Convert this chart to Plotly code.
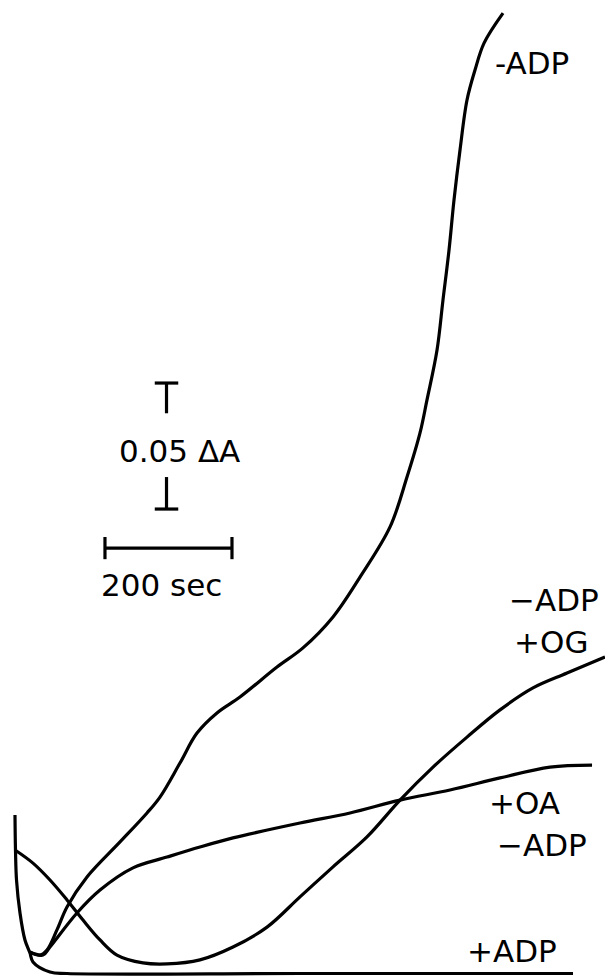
import plotly.graph_objects as go

# ---- data (time in sec, absorbance change in ΔA) ----
t_minus_adp = [23.6, 39.4, 50.4, 66.1, 81.9, 113.4, 165.4, 207.9, 228.3, 259.8, 286.6, 318.1,
               354.3, 412.6, 453.5, 500.8, 543.3, 590.6, 617.3, 637.8, 648.8, 664.6, 674.0,
               683.5, 691.3, 700.8, 711.8, 724.4, 738.6, 768.5]
a_minus_adp = [0.0091, 0.0079, 0.0099, 0.0179, 0.0270, 0.0389, 0.0528, 0.0643, 0.0706, 0.0841,
               0.0960, 0.1040, 0.1103, 0.1222, 0.1298, 0.1421, 0.1579, 0.1778, 0.1976, 0.2151,
               0.2282, 0.2480, 0.2679, 0.2877, 0.3075, 0.3274, 0.3472, 0.3591, 0.3698, 0.3817]

t_oa = [23.6, 44.1, 55.1, 97.6, 133.9, 185.8, 239.4, 291.3, 343.3, 448.8, 527.6, 606.3,
        685.0, 763.8, 842.5, 908.7]
a_oa = [0.0091, 0.0079, 0.0111, 0.0246, 0.0337, 0.0425, 0.0468, 0.0508, 0.0544, 0.0603,
        0.0643, 0.0694, 0.0734, 0.0782, 0.0825, 0.0833]

t_og = [0.0, 28.3, 55.1, 81.9, 107.1, 133.9, 160.6, 201.6, 239.4, 291.3, 343.3, 396.9,
        448.8, 500.8, 554.3, 606.3, 658.3, 711.8, 763.8, 815.7, 869.3, 929.1]
a_og = [0.0496, 0.0444, 0.0377, 0.0298, 0.0218, 0.0139, 0.0079, 0.0048, 0.0044, 0.0060,
        0.0111, 0.0190, 0.0310, 0.0429, 0.0548, 0.0694, 0.0825, 0.0944, 0.1052, 0.1139,
        0.1198, 0.1262]

t_plus_adp = [0.0, 0.8, 2.4, 7.9, 15.7, 23.6, 28.3, 55.1, 81.9, 448.8, 878.7]
a_plus_adp = [0.0635, 0.0496, 0.0377, 0.0246, 0.0139, 0.0087, 0.0052, 0.0012, 0.0006,
              0.0006, 0.0006]

# label lines (one entry per printed line)
label_texts = ["-ADP", "−ADP", "+OG", "+OA", "−ADP", "+ADP"]

# scale bars
bar_time = 200      # sec
bar_dA = 0.05       # ΔA
bar_time_label = "200 sec"
bar_dA_label = "0.05 ΔA"

# ---- layout constants ----
X_RANGE = [-23.6, 929.1]
Y_RANGE = [-0.0004, 0.3869]
INK = "black"
LW = 3.2
FONT = dict(family="DejaVu Sans", size=31, color=INK)

fig = go.Figure()

def curve(t, a):
    fig.add_trace(go.Scatter(x=t, y=a, mode="lines",
                             line=dict(color=INK, width=LW, shape="spline", smoothing=1.0),
                             hoverinfo="skip", showlegend=False))

curve(t_plus_adp, a_plus_adp)
curve(t_og, a_og)
curve(t_oa, a_oa)
curve(t_minus_adp, a_minus_adp)

# horizontal time scale bar
hb_t0, hb_a, tick_h = 141.7, 0.1694, 0.0044
hb_t1 = hb_t0 + bar_time
fig.add_trace(go.Scatter(
    x=[hb_t0, hb_t1, None, hb_t0, hb_t0, None, hb_t1, hb_t1],
    y=[hb_a, hb_a, None, hb_a - tick_h, hb_a + tick_h, None, hb_a - tick_h, hb_a + tick_h],
    mode="lines", line=dict(color=INK, width=3.2), hoverinfo="skip", showlegend=False))

# vertical absorbance scale bar (T ... ⊥)
vb_t, vb_a0 = 238.6, 0.1849
vb_a1 = vb_a0 + bar_dA
cap_w = 18.5
stem = 0.0120
fig.add_trace(go.Scatter(
    x=[vb_t - cap_w, vb_t + cap_w, None, vb_t, vb_t, None,
       vb_t - cap_w, vb_t + cap_w, None, vb_t, vb_t],
    y=[vb_a1, vb_a1, None, vb_a1, vb_a1 - stem, None,
       vb_a0, vb_a0, None, vb_a0, vb_a0 + stem + 0.0007],
    mode="lines", line=dict(color=INK, width=3.2), hoverinfo="skip", showlegend=False))

ann = [
    dict(x=259.1, y=0.2079, text=bar_dA_label, xanchor="center"),
    dict(x=230.0, y=0.1548, text=bar_time_label, xanchor="center"),
    dict(x=813.4, y=0.3619, text=label_texts[0], xanchor="center"),
    dict(x=774.0, y=0.1488, text=label_texts[1], xanchor="left"),
    dict(x=782.0, y=0.1321, text=label_texts[2], xanchor="left"),
    dict(x=744.0, y=0.0683, text=label_texts[3], xanchor="left"),
    dict(x=756.0, y=0.0516, text=label_texts[4], xanchor="left"),
    dict(x=709.0, y=0.0095, text=label_texts[5], xanchor="left"),
]
for a in ann:
    fig.add_annotation(xref="x", yref="y", showarrow=False, yanchor="middle",
                       font=FONT, **a)

fig.update_xaxes(range=X_RANGE, visible=False, showgrid=False, zeroline=False)
fig.update_yaxes(range=Y_RANGE, visible=False, showgrid=False, zeroline=False)
fig.update_layout(width=605, height=976, margin=dict(l=0, r=0, t=0, b=0),
                  paper_bgcolor="white", plot_bgcolor="white")

fig.write_html("out.html", config={"displayModeBar": False},
               post_script="document.body.style.margin='0';")
